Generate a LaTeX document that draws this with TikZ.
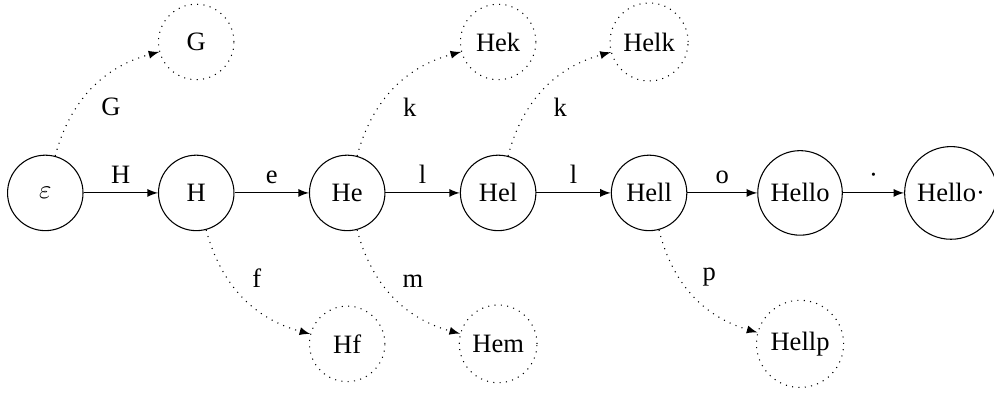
\documentclass[tikz,border=0pt]{standalone}
\usepackage{fontspec}
\setmainfont{Liberation Serif}
\usepackage{tikz}
\usetikzlibrary{arrows,automata,positioning}
\tikzstyle{state} = [circle,draw,minimum size=1cm]
\tikzstyle{ghost} = [state,dotted]
\tikzstyle{arrow} = [->,>=latex]

\begin{document}
\begin{tikzpicture}[node distance=2cm, on grid]
        \useasboundingbox (-0.6,-2.7) rectangle (12.57,2.556);
        % main chain
        \node[state] (eps) {$\varepsilon$};
        \node[state, right=of eps] (H) {H};
        \node[state, right=of H] (He) {He};
        \node[state, right=of He] (Hel) {Hel};
        \node[state, right=of Hel] (Hell) {Hell};
        \node[state, right=of Hell] (Hello) {Hello};
        \node[state, right=of Hello] (Hellodot) {Hello·};
        % side branches
        \node[ghost, above=of H] (G) {G};
        \node[ghost, above=of Hel] (Hek) {Hek};
        \node[ghost, above=of Hell] (Helk) {Helk};
        \node[ghost, below=of He] (Hf) {Hf};
        \node[ghost, below=of Hel] (Hem) {Hem};
        \node[ghost, below=of Hello] (Hellp) {Hellp};

        \draw[arrow] (eps) -- node[above]{H} (H);
        \draw[arrow] (H) -- node[above]{e} (He);
        \draw[arrow] (He) -- node[above]{l} (Hel);
        \draw[arrow] (Hel) -- node[above]{l} (Hell);
        \draw[arrow] (Hell) -- node[above]{o} (Hello);
        \draw[arrow] (Hello) -- node[above]{·} (Hellodot);

        \draw[arrow, dotted] (eps) to[bend left] node[below right]{G} (G);
        \draw[arrow, dotted] (He) to[bend left] node[below right]{k} (Hek);
        \draw[arrow, dotted] (Hel) to[bend left] node[below right]{k} (Helk);
        \draw[arrow, dotted] (H) to[bend right] node[above right]{f} (Hf);
        \draw[arrow, dotted] (He) to[bend right] node[above right]{m} (Hem);
        \draw[arrow, dotted] (Hell) to[bend right] node[above right]{p} (Hellp);
    \end{tikzpicture}
\end{document}
